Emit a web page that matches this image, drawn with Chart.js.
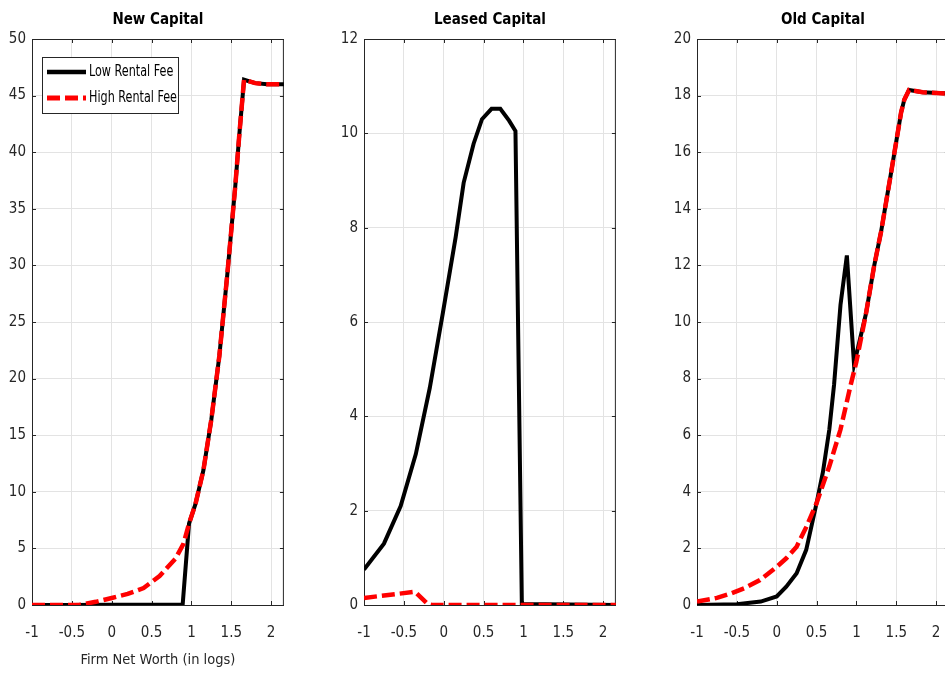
<!DOCTYPE html>
<html>
<head>
<meta charset="utf-8">
<script src="https://cdn.jsdelivr.net/npm/chart.js@4.4.1/dist/chart.umd.min.js"></script>
<style>
  html, body { margin: 0; padding: 0; background: #ffffff; overflow: hidden; width: 945px; height: 679px; }
  canvas { position: absolute; top: 0; }
</style>
</head>
<body>
<canvas id="c1" width="295" height="679" style="left:0px"></canvas>
<canvas id="c2" width="295" height="679" style="left:332px"></canvas>
<canvas id="c3" width="295" height="679" style="left:665px"></canvas>
<script>
// ---------- data ----------
const panelTitles = ['New Capital', 'Leased Capital', 'Old Capital'];
const seriesNames = ['Low Rental Fee', 'High Rental Fee'];
const xAxisLabel = 'Firm Net Worth (in logs)';
const xTickStep = 0.5;
const xMin = -1, xMax = 2.16;

// New Capital
const newLowX  = [-1, -0.5, 0, 0.5, 0.89, 0.97, 1.05, 1.15, 1.25, 1.35, 1.45, 1.55, 1.6, 1.66, 1.8, 1.95, 2.16];
const newLowY  = [0, 0, 0.03, 0.03, 0.03, 7.2, 8.9, 11.9, 16.4, 22.0, 29.2, 37.0, 41.5, 46.4, 46.1, 46.0, 46.0];
const newHighX = [-1, -0.8, -0.6, -0.4, -0.2, 0, 0.2, 0.4, 0.6, 0.8, 0.9, 0.97, 1.05, 1.15, 1.25, 1.35, 1.45, 1.55, 1.6, 1.66, 1.8, 1.95, 2.16];
const newHighY = [0, 0, 0, 0.02, 0.28, 0.62, 0.98, 1.5, 2.55, 4.1, 5.4, 7.2, 8.9, 11.9, 16.4, 22.0, 29.2, 37.0, 41.5, 46.4, 46.1, 46.0, 46.0];

// Leased Capital
const leasedLowX  = [-1, -0.75, -0.54, -0.35, -0.175, -0.01, 0.15, 0.25, 0.375, 0.48, 0.6, 0.71, 0.82, 0.9, 0.98, 2.16];
const leasedLowY  = [0.75, 1.3, 2.1, 3.2, 4.6, 6.2, 7.8, 8.95, 9.78, 10.3, 10.52, 10.52, 10.27, 10.05, 0.02, 0];
const leasedHighX = [-1, -0.36, -0.2, -0.15, 2.16];
const leasedHighY = [0.15, 0.28, 0.02, 0, 0];

// Old Capital
const oldLowX  = [-1, -0.5, -0.2, 0, 0.12, 0.25, 0.37, 0.5, 0.58, 0.66, 0.72, 0.8, 0.88, 0.97, 1.12, 1.22, 1.31, 1.43, 1.56, 1.6, 1.66, 1.83, 2.16];
const oldLowY  = [0, 0.03, 0.12, 0.3, 0.65, 1.12, 1.95, 3.6, 4.7, 6.2, 7.8, 10.6, 12.35, 8.5, 10.3, 11.95, 13.2, 15.2, 17.4, 17.85, 18.2, 18.12, 18.07];
const oldHighX = [-1, -0.75, -0.57, -0.4, -0.21, 0, 0.12, 0.25, 0.37, 0.5, 0.66, 0.8, 0.93, 1.0, 1.12, 1.22, 1.31, 1.43, 1.56, 1.6, 1.66, 1.83, 2.16];
const oldHighY = [0.12, 0.25, 0.41, 0.6, 0.88, 1.35, 1.65, 2.06, 2.75, 3.6, 4.9, 6.2, 7.8, 8.6, 10.3, 11.95, 13.2, 15.2, 17.4, 17.85, 18.2, 18.12, 18.07];

// y axes
const yMaxes  = [50, 12, 20];
const ySteps  = [5, 2, 2];

// ---------- helpers ----------
const FONT = "'DejaVu Sans Condensed', 'Liberation Sans', sans-serif";
const AX = '#262626';
const GRID = '#e3e3e3';

function pts(xs, ys) { return xs.map((x, i) => ({ x: x, y: ys[i] })); }
function fmt(v) { return String(Number(v.toFixed(3))); }

const framePlugin = {
  id: 'frame',
  beforeDatasetsDraw(chart) {
    const { ctx, chartArea: a, scales } = chart;
    const L = 4;
    ctx.save();
    ctx.strokeStyle = AX;
    ctx.lineWidth = 1;
    ctx.beginPath();
    ctx.moveTo(a.left, a.top + 0.5); ctx.lineTo(a.right, a.top + 0.5);
    ctx.moveTo(a.right - 0.5, a.top); ctx.lineTo(a.right - 0.5, a.bottom);
    scales.x.ticks.forEach(t => {
      const px = Math.round(scales.x.getPixelForValue(t.value)) + 0.5;
      ctx.moveTo(px, a.bottom); ctx.lineTo(px, a.bottom - L);
      ctx.moveTo(px, a.top); ctx.lineTo(px, a.top + L);
    });
    scales.y.ticks.forEach(t => {
      const py = Math.round(scales.y.getPixelForValue(t.value)) + 0.5;
      ctx.moveTo(a.left, py); ctx.lineTo(a.left + L, py);
      ctx.moveTo(a.right, py); ctx.lineTo(a.right - L, py);
    });
    ctx.stroke();
    ctx.restore();
  }
};

const legendBoxPlugin = {
  id: 'legendBox',
  afterDraw(chart, args, opts) {
    if (!opts || !opts.show) return;
    const { ctx, chartArea: a } = chart;
    const x0 = a.left + 10, y0 = a.top + 18, w = 136, h = 56;
    ctx.save();
    ctx.fillStyle = '#ffffff';
    ctx.fillRect(x0, y0, w, h);
    ctx.strokeStyle = AX;
    ctx.lineWidth = 1;
    ctx.strokeRect(x0 + 0.5, y0 + 0.5, w, h);
    chart.data.datasets.forEach((ds, i) => {
      const yy = y0 + 15 + i * 26;
      ctx.beginPath();
      ctx.strokeStyle = ds.borderColor;
      ctx.lineWidth = ds.borderWidth + 0.5;
      ctx.setLineDash(ds.borderDash || []);
      ctx.moveTo(x0 + 5, yy); ctx.lineTo(x0 + 44, yy);
      ctx.stroke();
      ctx.setLineDash([]);
      ctx.fillStyle = '#000000';
      ctx.font = '15px ' + FONT;
      ctx.textBaseline = 'middle';
      ctx.textAlign = 'left';
      ctx.save();
      ctx.translate(x0 + 47, yy);
      ctx.scale(0.83, 1);
      ctx.fillText(ds.label, 0, 0);
      ctx.restore();
    });
    ctx.restore();
  }
};

function makeChart(id, idx, lowX, lowY, highX, highY, showLegend, showXTitle) {
  return new Chart(document.getElementById(id), {
    type: 'line',
    data: {
      datasets: [
        { label: seriesNames[0], data: pts(lowX, lowY), borderColor: '#000000', borderWidth: 4,
          pointRadius: 0, tension: 0, fill: false, order: 1 },
        { label: seriesNames[1], data: pts(highX, highY), borderColor: '#ff0000', borderWidth: 4.5,
          borderDash: [13, 5], pointRadius: 0, tension: 0, fill: false, order: 0 }
      ]
    },
    options: {
      responsive: false,
      animation: false,
      layout: { padding: { left: 0, right: 10, top: 0, bottom: 0 } },
      plugins: {
        legend: { display: false },
        tooltip: { enabled: false },
        title: {
          display: true, text: panelTitles[idx], fullSize: false, color: '#000000',
          font: { family: FONT, size: 15, weight: 'bold', lineHeight: 1.2 },
          padding: { top: 11, bottom: 10 }
        },
        legendBox: { show: showLegend }
      },
      scales: {
        x: {
          type: 'linear', min: xMin, max: xMax,
          afterFit: s => { s.height = 74; },
          ticks: { stepSize: xTickStep, includeBounds: false, color: AX, padding: 19,
                   maxRotation: 0, font: { family: FONT, size: 15 }, callback: fmt },
          grid: { color: GRID, drawTicks: false },
          border: { display: true, color: AX, width: 1 },
          title: { display: showXTitle, text: xAxisLabel, color: AX,
                   font: { family: FONT, size: 14.5 }, padding: { top: 0, bottom: 10 } }
        },
        y: {
          type: 'linear', min: 0, max: yMaxes[idx],
          afterFit: s => { s.width = 32; },
          ticks: { stepSize: ySteps[idx], color: AX, padding: 6,
                   font: { family: FONT, size: 15 }, callback: fmt },
          grid: { color: GRID, drawTicks: false },
          border: { display: true, color: AX, width: 1 }
        }
      }
    },
    plugins: [framePlugin, legendBoxPlugin]
  });
}

makeChart('c1', 0, newLowX, newLowY, newHighX, newHighY, true, true);
makeChart('c2', 1, leasedLowX, leasedLowY, leasedHighX, leasedHighY, false, false);
makeChart('c3', 2, oldLowX, oldLowY, oldHighX, oldHighY, false, false);
</script>
</body>
</html>
